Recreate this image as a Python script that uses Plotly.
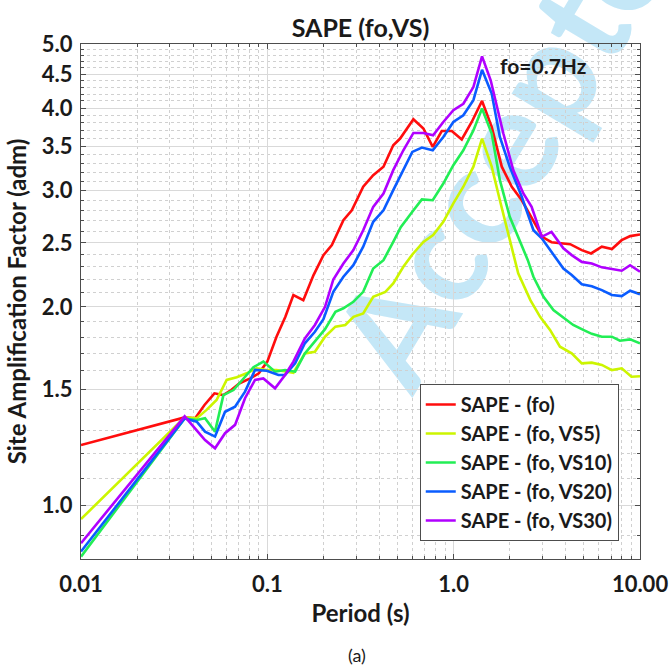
import plotly.graph_objects as go

# ---------------- data ----------------
series_names = ["SAPE - (fo)", "SAPE - (fo, VS5)", "SAPE - (fo, VS10)",
                "SAPE - (fo, VS20)", "SAPE - (fo, VS30)"]
series_colors = ["#ff0d0d", "#ccf500", "#22ee55", "#0a5cff", "#b000ff"]

period_fo = [0.01, 0.036, 0.041, 0.046, 0.052, 0.058, 0.064, 0.071, 0.081, 0.09, 0.1,
             0.112, 0.125, 0.138, 0.156, 0.177, 0.2, 0.222, 0.256, 0.284, 0.327, 0.37,
             0.42, 0.474, 0.516, 0.608, 0.688, 0.772, 0.863, 0.977, 1.105, 1.25, 1.42,
             1.6, 1.812, 2.05, 2.32, 2.68, 3.0, 3.35, 4.22, 4.87, 5.46, 6.24, 7.07,
             7.97, 8.86, 10.0]
saf_fo = [1.235, 1.36, 1.356, 1.42, 1.479, 1.47, 1.496, 1.532, 1.558, 1.586, 1.652,
          1.802, 1.932, 2.084, 2.047, 2.234, 2.395, 2.48, 2.705, 2.80, 3.04, 3.165,
          3.26, 3.513, 3.596, 3.846, 3.724, 3.493, 3.692, 3.692, 3.584, 3.81, 4.10,
          3.745, 3.26, 3.04, 2.90, 2.705, 2.55, 2.505, 2.488, 2.437, 2.409, 2.466,
          2.446, 2.523, 2.559, 2.574]

period_vs5 = [0.01, 0.036, 0.0418, 0.0472, 0.0534, 0.0605, 0.0685, 0.0775, 0.0877,
              0.099, 0.112, 0.1245, 0.138, 0.159, 0.18, 0.204, 0.232, 0.262, 0.29,
              0.327, 0.37, 0.43, 0.474, 0.537, 0.6, 0.688, 0.776, 0.88, 0.996, 1.127,
              1.276, 1.42, 1.6, 1.77, 2.0, 2.22, 2.58, 2.91, 3.29, 3.72, 4.3, 4.87,
              5.51, 6.24, 7.06, 7.98, 9.0, 10.0]
saf_vs5 = [0.954, 1.36, 1.356, 1.396, 1.445, 1.55, 1.564, 1.586, 1.614, 1.604, 1.604,
           1.595, 1.589, 1.70, 1.71, 1.802, 1.866, 1.877, 1.931, 1.954, 2.071, 2.107,
           2.17, 2.299, 2.40, 2.508, 2.568, 2.69, 2.868, 3.04, 3.26, 3.596, 3.26, 2.90,
           2.523, 2.247, 2.047, 1.931, 1.845, 1.74, 1.70, 1.642, 1.646, 1.633, 1.604,
           1.614, 1.567, 1.57]

period_vs10 = [0.01, 0.036, 0.0418, 0.0463, 0.0524, 0.0581, 0.0658, 0.0744, 0.0842,
               0.0952, 0.11, 0.1245, 0.141, 0.159, 0.18, 0.204, 0.232, 0.256, 0.2895,
               0.327, 0.37, 0.42, 0.474, 0.52, 0.6, 0.675, 0.772, 0.88, 0.996, 1.127,
               1.276, 1.42, 1.6, 1.77, 2.0, 2.26, 2.5, 2.68, 3.035, 3.43, 3.92, 4.38,
               4.96, 5.51, 6.24, 7.06, 7.8, 8.85, 10.0]
saf_vs10 = [0.837, 1.355, 1.348, 1.356, 1.294, 1.47, 1.496, 1.558, 1.62, 1.652, 1.595,
            1.604, 1.595, 1.70, 1.771, 1.85, 1.966, 1.99, 2.035, 2.107, 2.286, 2.353,
            2.508, 2.64, 2.785, 2.908, 2.90, 3.074, 3.277, 3.452, 3.70, 3.993, 3.66,
            3.11, 2.737, 2.523, 2.353, 2.221, 2.071, 1.978, 1.921, 1.877, 1.845, 1.82,
            1.802, 1.802, 1.777, 1.785, 1.761]

period_vs20 = [0.01, 0.036, 0.0418, 0.0463, 0.0524, 0.0593, 0.0671, 0.0759, 0.0859,
               0.0993, 0.1147, 0.1245, 0.141, 0.159, 0.18, 0.2, 0.226, 0.256, 0.2895,
               0.327, 0.37, 0.42, 0.474, 0.537, 0.6, 0.675, 0.772, 0.88, 0.996, 1.127,
               1.276, 1.42, 1.6, 1.77, 2.0, 2.32, 2.68, 2.97, 3.35, 3.88, 4.3, 4.87,
               5.51, 6.24, 7.06, 7.98, 8.85, 10.0]
saf_vs20 = [0.852, 1.355, 1.34, 1.294, 1.272, 1.387, 1.412, 1.488, 1.605, 1.60, 1.577,
            1.577, 1.642, 1.761, 1.833, 1.915, 2.107, 2.221, 2.312, 2.466, 2.69, 2.80,
            3.004, 3.22, 3.432, 3.485, 3.452, 3.616, 3.81, 3.90, 4.11, 4.57, 4.206,
            3.616, 3.26, 2.935, 2.612, 2.539, 2.423, 2.286, 2.234, 2.164, 2.149, 2.12,
            2.084, 2.076, 2.115, 2.09]

period_vs30 = [0.01, 0.036, 0.0463, 0.0524, 0.0593, 0.0671, 0.0759, 0.0859, 0.0952,
               0.11, 0.1245, 0.138, 0.159, 0.18, 0.204, 0.226, 0.256, 0.2895, 0.327,
               0.37, 0.42, 0.474, 0.537, 0.608, 0.688, 0.776, 0.88, 0.996, 1.127, 1.276,
               1.42, 1.58, 1.848, 2.09, 2.366, 2.62, 2.97, 3.35, 3.88, 4.3, 4.87, 5.51,
               6.24, 7.06, 7.98, 8.85, 10.0]
saf_vs30 = [0.877, 1.365, 1.257, 1.221, 1.287, 1.325, 1.454, 1.55, 1.558, 1.505, 1.577,
            1.652, 1.791, 1.877, 2.0, 2.2, 2.326, 2.437, 2.612, 2.834, 2.969, 3.221,
            3.452, 3.667, 3.667, 3.638, 3.81, 3.97, 4.06, 4.303, 4.79, 4.406, 3.66, 3.22,
            2.969, 2.834, 2.553, 2.597, 2.452, 2.395, 2.339, 2.326, 2.295, 2.279, 2.268,
            2.312, 2.26]

x_tick_vals = [0.01, 0.1, 1.0, 10.0]
x_tick_text = ["0.01", "0.1", "1.0", "10.00"]
y_tick_vals = [1.0, 1.5, 2.0, 2.5, 3.0, 3.5, 4.0, 4.5, 5.0]
y_tick_text = ["1.0", "1.5", "2.0", "2.5", "3.0", "3.5", "4.0", "4.5", "5.0"]
x_minor_vals = [m * d for d in (0.01, 0.1, 1.0) for m in range(2, 10)]
y_minor_vals = [0.9, 1.1, 1.2, 1.3, 1.4, 1.6, 1.7, 1.8, 1.9, 2.1, 2.2, 2.3, 2.4,
                2.6, 2.7, 2.8, 2.9, 3.1, 3.2, 3.3, 3.4, 3.6, 3.7, 3.8, 3.9,
                4.1, 4.2, 4.3, 4.4, 4.6, 4.7, 4.8, 4.9]

# ---------------- figure ----------------
periods = [period_fo, period_vs5, period_vs10, period_vs20, period_vs30]
values = [saf_fo, saf_vs5, saf_vs10, saf_vs20, saf_vs30]

FONT = "Lato"
TXT = "#1a1a1a"
fig = go.Figure()
for name, col, xs, ys in zip(series_names, series_colors, periods, values):
    fig.add_trace(go.Scatter(x=xs, y=ys, mode="lines", name=name,
                             line=dict(color=col, width=2.6)))

axis_common = dict(
    type="log", showline=True, linecolor="#4d4d4d", linewidth=1, mirror="allticks",
    ticks="inside", ticklen=5, tickcolor="#4d4d4d", showgrid=True,
    gridcolor="#d9d9d9", gridwidth=1, zeroline=False, automargin=False,
    ticklabeloverflow="allow",
    tickfont=dict(family=FONT, size=22, color=TXT, weight="bold"),
)

fig.update_xaxes(
    **axis_common, range=[-2, 1], tickmode="array", tickvals=x_tick_vals,
    ticktext=x_tick_text, ticklabelstandoff=6,
    minor=dict(tickmode="array", tickvals=x_minor_vals, ticks="inside", ticklen=3,
               tickcolor="#4d4d4d", showgrid=True, gridcolor="#d0d0d0",
               griddash="dot", gridwidth=1),
    title=dict(text="Period (s)", font=dict(family=FONT, size=24, color=TXT,
                                            weight="bold"), standoff=8),
)
fig.update_yaxes(
    **axis_common, range=[-0.0809, 0.699], tickmode="array", tickvals=y_tick_vals,
    ticktext=y_tick_text, ticklabelstandoff=3,
    minor=dict(tickmode="array", tickvals=y_minor_vals, ticks="inside", ticklen=3,
               tickcolor="#4d4d4d", showgrid=True, gridcolor="#d0d0d0",
               griddash="dot", gridwidth=1),
    title=dict(text="Site Amplification Factor (adm)",
               font=dict(family=FONT, size=24, color=TXT, weight="bold"),
               standoff=8),
)

fig.update_layout(
    width=670, height=666,
    margin=dict(l=81, r=30, t=44, b=107),
    paper_bgcolor="white", plot_bgcolor="rgba(0,0,0,0)",
    title=dict(text="SAPE (fo,VS)", x=0.5, xref="paper", xanchor="center",
               y=1 - 28 / 666, yref="container", yanchor="middle",
               font=dict(family=FONT, size=25, color=TXT, weight="bold")),
    legend=dict(x=0.962, y=0.035, xanchor="right", yanchor="bottom",
                bgcolor="white", bordercolor="#4d4d4d", borderwidth=1,
                font=dict(family=FONT, size=20, color=TXT, weight="bold"),
                tracegroupgap=0),
    showlegend=True,
)

fig.add_annotation(text="<b>fo=0.7Hz</b>", x=0.746, y=0.959, xref="paper",
                   yref="paper", xanchor="left", yanchor="middle", showarrow=False,
                   font=dict(family=FONT, size=21, color=TXT, weight="bold"))
fig.add_annotation(text="(a)", x=0.494, y=-(655 - 559) / 515, xref="paper",
                   yref="paper", xanchor="center", yanchor="middle", showarrow=False,
                   font=dict(family=FONT, size=18, color=TXT))

# journal watermark, drawn beneath the curves
wx, wy = (516 - 81) / 559, (559 - 117) / 515
fig.add_shape(type="rect", xref="paper", yref="paper", layer="below",
              x0=wx - 0.01, x1=wx + 0.01, y0=wy - 0.01, y1=wy + 0.01,
              line=dict(width=0), fillcolor="rgba(0,0,0,0)",
              label=dict(text="Accepted", textangle=-59, textposition="middle center",
                         font=dict(family=FONT, size=140, color="#c4e7f7",
                                   weight="bold")))

# remove the browser's default 8 px page margin so the figure fills the window
fig.write_html("out.html",
               config={"displayModeBar": False},
               post_script="document.body.style.margin='0px';"
                           "document.body.style.overflow='hidden';")
